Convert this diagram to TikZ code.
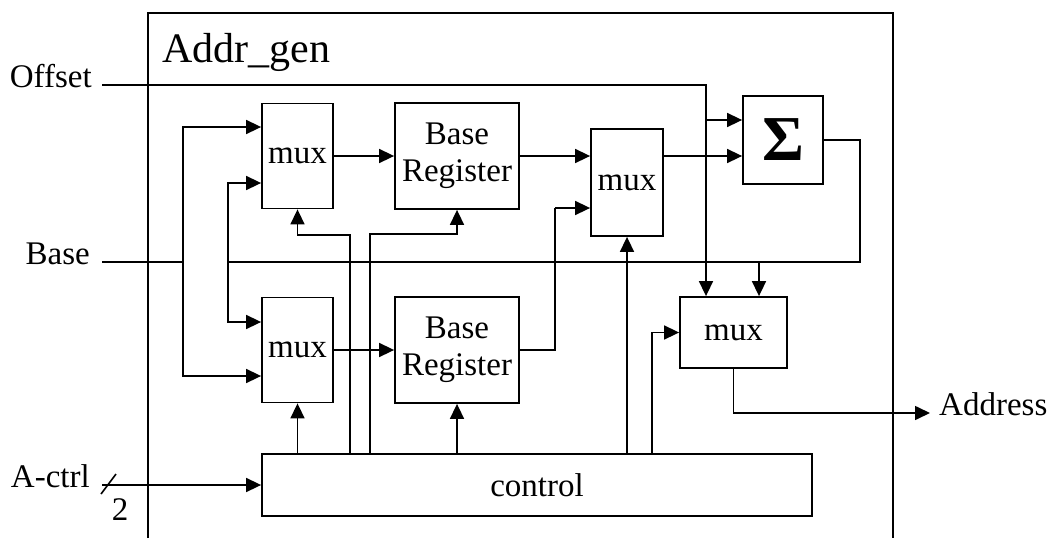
\documentclass[tikz,border=0pt]{standalone}
\usepackage{fontspec}
\setmainfont{Liberation Serif}
\usetikzlibrary{arrows.meta}

\begin{document}
\begin{tikzpicture}[
      x = 1pt, y = -1pt,
      line width = 1.8pt,
      font = \fontsize{33}{37}\selectfont,
      blk/.style={
        draw,
        inner sep = 0pt,
        align = center,
      },
      wire/.style={
        line width = 1.6pt,
      },
      sig/.style={
        wire,
        -{Triangle[length=15pt, width=14pt]},
      },
    ]
    \useasboundingbox (0,0) rectangle (1049,538);

    % Addr_gen frame (runs off the bottom)
    \draw (148,538) |- (893,13) -- (893,538);
    \node[anchor=base west, font=\fontsize{42}{46}\selectfont] (title) at (158,62) {Addr\_gen};

    % blocks
    \node[blk, minimum width=71pt, minimum height=105pt] (muxtop) at (297.5,156) {mux};
    \node[blk, minimum width=71pt, minimum height=105pt] (muxbot) at (297.5,350) {mux};
    \node[blk, minimum width=124pt, minimum height=106pt] (regtop) at (457,156) {Base\\Register};
    \node[blk, minimum width=124pt, minimum height=106pt] (regbot) at (457,350) {Base\\Register};
    \node[blk, minimum width=72pt, minimum height=107pt] (muxmid) at (627,182.5) {mux};
    \node[blk, minimum width=80pt, minimum height=88pt,
          font=\fontsize{64}{66}\selectfont\bfseries] (sum) at (783,140) {Σ};
    \node[blk, minimum width=107pt, minimum height=71pt] (muxout) at (733.5,332.5) {mux};
    \node[blk, minimum width=550pt, minimum height=62pt] (ctrl) at (537,485) {control};

    % ports
    \coordinate (offin) at (102,85);
    \coordinate (basein) at (102,262);
    \coordinate (ctrlin) at (102,485);
    \coordinate (addrout) at (930,413);
    \node[anchor=base east] (offset) at (96,87) {Offset};
    \node[anchor=base east] (base) at (94,264) {Base};
    \node[anchor=base east] (actrl) at (94,487) {A-ctrl};
    \node[anchor=base west] (address) at (935,415) {Address};

    % bend points
    \coordinate (bsplit) at (183,262);
    \coordinate (fb) at (228,262);
    \coordinate (fbr) at (860,262);
    \coordinate (fbm) at (759,262);
    \coordinate (offdn) at (706,85);
    \coordinate (offsum) at (706,120);
    \coordinate (regsw) at (555,208);
    \coordinate (c1) at (350,235);
    \coordinate (c2) at (370,234);
    \coordinate (c3) at (652,0);

    % Base input
    \draw[wire] (basein) -- (bsplit);
    \draw[sig] (bsplit) |- ([yshift=29pt]muxtop.west);
    \draw[sig] (bsplit) |- ([yshift=-26pt]muxbot.west);

    % sum fed back
    \draw[wire] (sum.east) -| (fbr) -- (fb);
    \draw[sig] (fb) |- ([yshift=-27pt]muxtop.west);
    \draw[sig] (fb) |- ([yshift=28pt]muxbot.west);
    \draw[sig] (fbm) -- (fbm |- muxout.north);

    % Offset
    \draw[sig] (offin) -- (offdn) -- (offdn |- muxout.north);
    \draw[sig] (offsum) -- (offsum -| sum.west);

    % data path
    \draw[sig] (muxtop.east) -- (regtop.west);
    \draw[sig] (muxbot.east) -- (regbot.west);
    \draw[sig] (regtop.east) -- (regtop.east -| muxmid.west);
    \draw[wire] (regbot.east) -| (regsw);
    \draw[sig] (regsw) -- (regsw -| muxmid.west);
    \draw[sig] (muxmid.east |- regtop.east) -- (regtop.east -| sum.west);
    \draw[sig] (muxout.south) |- (addrout);

    % control lines
    \draw[sig] (ctrlin) -- (ctrlin -| ctrl.west);
    \draw[wire] (101,494) -- (116,474);
    \node (width) at (120,510) {2};
    \draw[sig] (c1 |- ctrl.north) -- (c1) -| (muxtop.south);
    \draw[sig] (c2 |- ctrl.north) -- (c2) -| (regtop.south);
    \draw[sig] (muxbot.south |- ctrl.north) -- (muxbot.south);
    \draw[sig] (regbot.south |- ctrl.north) -- (regbot.south);
    \draw[sig] (muxmid.south |- ctrl.north) -- (muxmid.south);
    \draw[sig] (c3 |- ctrl.north) |- (muxout.west);
  \end{tikzpicture}
\end{document}
